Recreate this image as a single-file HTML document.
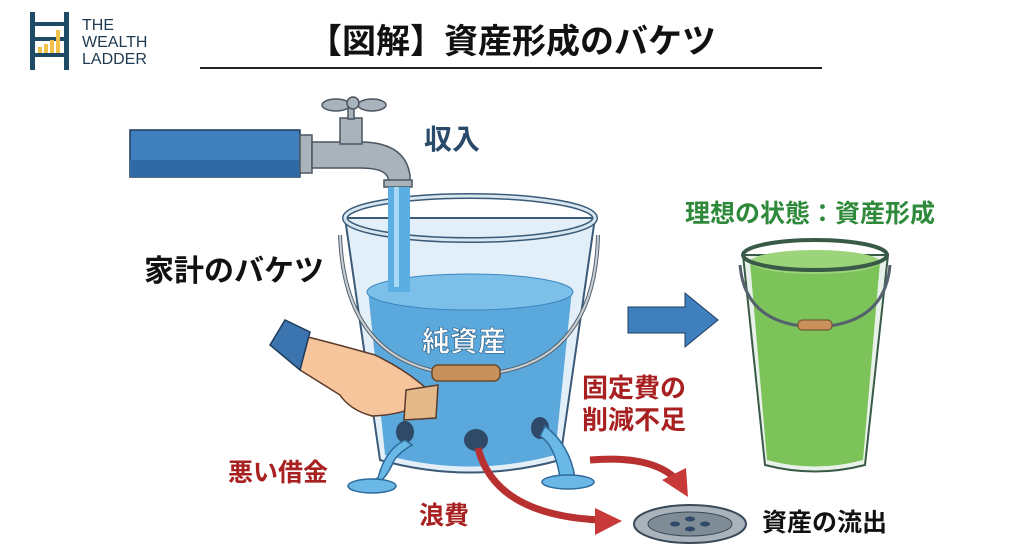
<!DOCTYPE html>
<html><head><meta charset="utf-8"><style>
html,body{margin:0;padding:0;background:#fff;}
svg{display:block}
text{font-family:"Liberation Sans","Noto Sans CJK JP",sans-serif;}
</style></head><body>
<svg width="1024" height="559" viewBox="0 0 1024 559" xmlns="http://www.w3.org/2000/svg">
<rect width="1024" height="559" fill="#fff"/>
<!-- logo -->
<g fill="#1f4a66">
<rect x="30" y="12" width="5" height="58"/><rect x="64" y="12" width="5" height="58"/>
<rect x="30" y="22" width="39" height="4"/><rect x="30" y="37" width="39" height="4"/><rect x="30" y="53" width="39" height="4"/>
</g>
<g fill="#f0c24a"><rect x="38" y="47" width="4" height="6"/><rect x="44" y="44" width="4" height="9"/><rect x="50" y="40" width="4" height="13"/><rect x="56" y="30" width="4" height="23"/></g>
<text x="82" y="30" font-size="16" fill="#1f3a50">THE</text>
<text x="82" y="47" font-size="16" fill="#1f3a50">WEALTH</text>
<text x="82" y="64" font-size="16" fill="#1f3a50">LADDER</text>
<!-- title -->
<text x="512" y="53" font-size="34" font-weight="bold" text-anchor="middle" fill="#111">【図解】資産形成のバケツ</text>
<rect x="200" y="67" width="622" height="2" fill="#222"/>
<!-- pipe -->
<rect x="130" y="130" width="170" height="47" fill="#3f7fbd" stroke="#1e3c5a" stroke-width="1.5"/>
<rect x="130" y="160" width="170" height="17" fill="#2f6aa5"/>
<!-- faucet -->
<g fill="#a9b3bc" stroke="#4a5560" stroke-width="1.5">
<rect x="300" y="135" width="12" height="38"/>
<path d="M312 142 H360 Q405 142 410 175 V187 H388 V178 Q385 168 360 168 H312 Z"/>
<rect x="340" y="118" width="22" height="26"/>
<rect x="348" y="103" width="6" height="16"/>
<ellipse cx="336" cy="105" rx="14" ry="6"/><ellipse cx="372" cy="105" rx="14" ry="6"/>
<circle cx="353" cy="103" r="6"/>
<rect x="384" y="180" width="28" height="7"/>
</g>
<text x="424" y="149" font-size="28" font-weight="bold" fill="#2a4a6a">収入</text>
<!-- bucket -->
<path d="M345 218 L380 460 Q470 485 560 460 L595 218 Z" fill="#e3eff8" stroke="#3a5a78" stroke-width="2"/>
<path d="M368 290 L385 455 Q470 478 555 455 L572 290 Z" fill="#5aa8dc"/>
<ellipse cx="470" cy="292" rx="103" ry="18" fill="#7cc0ea" stroke="#3d86c0"/>
<ellipse cx="470" cy="218" rx="125" ry="22" fill="none" stroke="#3a5a78" stroke-width="6"/>
<ellipse cx="470" cy="218" rx="125" ry="22" fill="none" stroke="#d8e6f0" stroke-width="3"/>
<rect x="388" y="187" width="22" height="105" fill="#5aaee2"/>
<rect x="394" y="187" width="5" height="100" fill="#a8d8f5"/>
<path d="M340 235 Q345 372 470 375 Q595 372 598 235" fill="none" stroke="#55626d" stroke-width="4"/>
<path d="M340 235 Q345 372 470 375 Q595 372 598 235" fill="none" stroke="#c8d0d6" stroke-width="2"/>
<rect x="432" y="365" width="68" height="16" rx="6" fill="#c8905a" stroke="#6a4a2a" stroke-width="1.5"/>
<text x="464" y="351" font-size="28" font-weight="bold" text-anchor="middle" fill="#fff" stroke="#2a5a80" stroke-width="0.6">純資産</text>
<text x="144" y="281" font-size="30" font-weight="bold" fill="#111">家計のバケツ</text>
<!-- holes & leaks -->
<g fill="#2e4a68"><ellipse cx="405" cy="432" rx="9" ry="11"/><ellipse cx="476" cy="440" rx="12" ry="11"/><ellipse cx="540" cy="428" rx="9" ry="11"/></g>
<g fill="#6ab8e6" stroke="#2e6a9a" stroke-width="1.5">
<path d="M405 440 Q385 450 378 478 L360 485 L372 488 Q385 480 392 465 Q395 455 412 445 Z"/>
<ellipse cx="372" cy="486" rx="24" ry="7"/>
<path d="M540 436 Q555 445 560 478 L575 478 Q570 445 545 426 Z"/>
<ellipse cx="568" cy="482" rx="26" ry="7"/>
</g>
<!-- hand -->
<path d="M300 335 Q340 345 375 355 Q410 372 430 392 L420 405 Q400 415 372 416 Q350 410 340 395 L300 370 Z" fill="#f7c59c" stroke="#5a3a2a" stroke-width="1.5"/>
<path d="M270 345 L285 320 L310 332 L300 370 Z" fill="#3c74b0" stroke="#1e3c5a" stroke-width="1.5"/>
<path d="M406 390 L438 385 L436 418 L404 420 Z" fill="#e3b98a" stroke="#5a3a2a" stroke-width="1.5"/>
<!-- labels -->
<text x="228" y="481" font-size="25" font-weight="bold" fill="#a82020">悪い借金</text>
<text x="419" y="524" font-size="25" font-weight="bold" fill="#a82020">浪費</text>
<text x="582" y="397" font-size="26" font-weight="bold" fill="#a82020">固定費の</text>
<text x="582" y="429" font-size="26" font-weight="bold" fill="#a82020">削減不足</text>
<!-- red arrows -->
<path d="M478 448 Q495 515 600 520" fill="none" stroke="#b83030" stroke-width="7"/>
<path d="M595 508 L622 521 L595 535 Z" fill="#c83a3a"/>
<path d="M590 460 Q650 455 675 478" fill="none" stroke="#b83030" stroke-width="7"/>
<path d="M662 480 L688 497 L686 468 Z" fill="#c83a3a"/>
<!-- drain -->
<ellipse cx="690" cy="524" rx="56" ry="19" fill="#a9b3bc" stroke="#3a4a58" stroke-width="2"/>
<ellipse cx="690" cy="524" rx="42" ry="12" fill="#7f8c96" stroke="#3a4a58"/>
<g fill="#2e4a68"><ellipse cx="675" cy="524" rx="5" ry="2.5"/><ellipse cx="705" cy="524" rx="5" ry="2.5"/><ellipse cx="690" cy="519" rx="5" ry="2.5"/><ellipse cx="690" cy="529" rx="5" ry="2.5"/></g>
<text x="762" y="531" font-size="25" font-weight="bold" fill="#111">資産の流出</text>
<!-- blue arrow -->
<path d="M628 307 H685 V293 L718 320 L685 347 V333 H628 Z" fill="#3f7fbd" stroke="#1e3c5a" stroke-width="1"/>
<!-- green bucket -->
<text x="685" y="222" font-size="25" font-weight="bold" fill="#2e8a3a">理想の状態：資産形成</text>
<path d="M743 255 L765 465 Q815 478 865 465 L888 255 Z" fill="#e8f2ea" stroke="#3a5a48" stroke-width="2"/>
<path d="M750 262 L767 460 Q815 473 863 460 L880 262 Z" fill="#7cc35a"/>
<ellipse cx="815" cy="262" rx="65" ry="12" fill="#9bd47a"/>
<ellipse cx="815" cy="255" rx="72" ry="15" fill="none" stroke="#3a5a48" stroke-width="4"/>
<path d="M740 265 Q745 325 815 327 Q885 325 890 265" fill="none" stroke="#55626d" stroke-width="3"/>
<rect x="798" y="320" width="34" height="10" rx="4" fill="#c8905a" stroke="#6a4a2a"/>
</svg>
</body></html>
